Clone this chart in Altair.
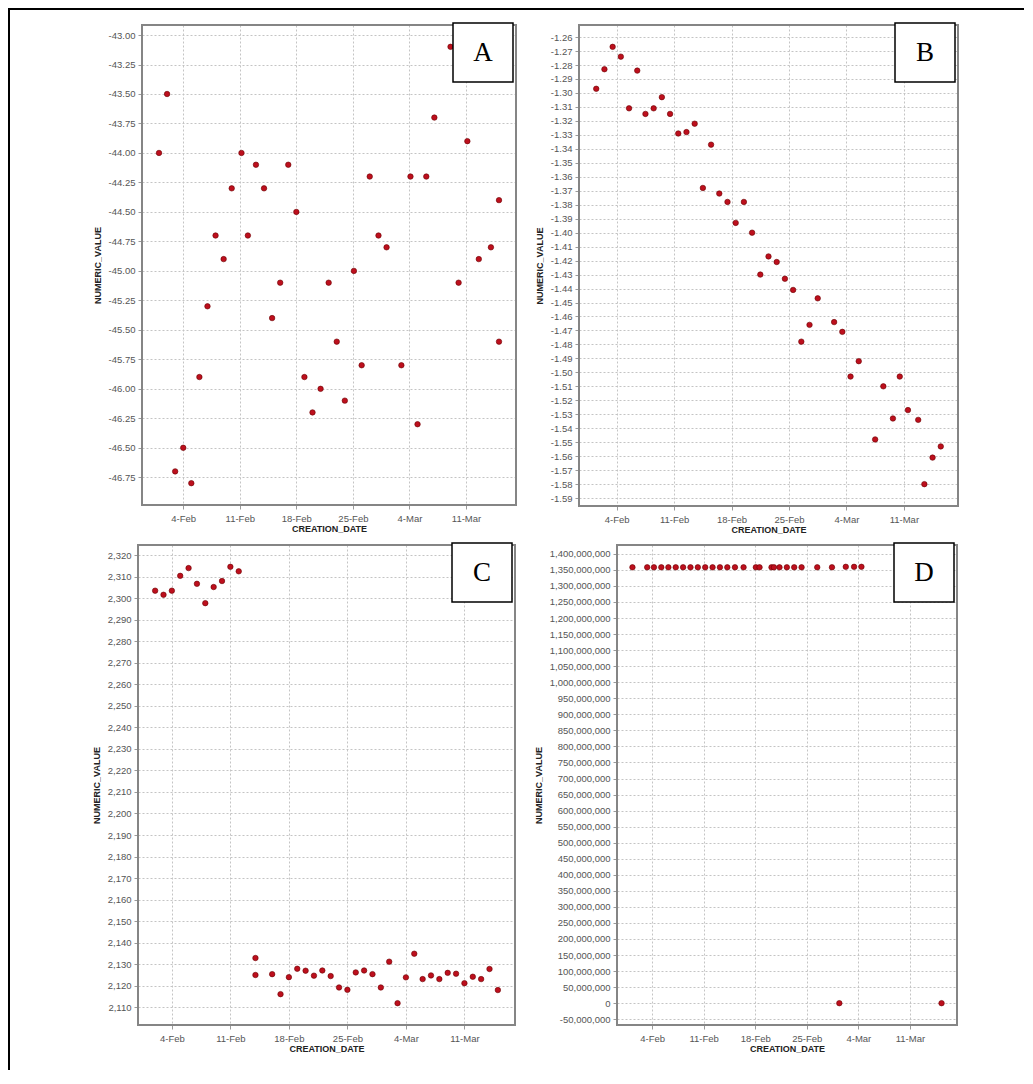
import altair as alt
import pandas as pd

# ---------------- data ----------------
# Panel A
a_dates = ["2013-02-01", "2013-02-02", "2013-02-03", "2013-02-04", "2013-02-05", "2013-02-06",
           "2013-02-07", "2013-02-08", "2013-02-09", "2013-02-10", "2013-02-11 05:00", "2013-02-12",
           "2013-02-13", "2013-02-14", "2013-02-15", "2013-02-16", "2013-02-17", "2013-02-18",
           "2013-02-19", "2013-02-20", "2013-02-21", "2013-02-22", "2013-02-23", "2013-02-24",
           "2013-02-25 03:00", "2013-02-26 02:00", "2013-02-27 02:00", "2013-02-28 04:00", "2013-03-01 04:00",
           "2013-03-03", "2013-03-04 03:00", "2013-03-05", "2013-03-06 02:00", "2013-03-07 02:00",
           "2013-03-09 02:00", "2013-03-10 02:00", "2013-03-11 04:00", "2013-03-12 14:00",
           "2013-03-14 02:00", "2013-03-15 02:00", "2013-03-15 02:00"]
a_values = [-44.0, -43.5, -46.7, -46.5, -46.8, -45.9,
            -45.3, -44.7, -44.9, -44.3, -44.0, -44.7,
            -44.1, -44.3, -45.4, -45.1, -44.1, -44.5,
            -45.9, -46.2, -46.0, -45.1, -45.6, -46.1,
            -45.0, -45.8, -44.2, -44.7, -44.8,
            -45.8, -44.2, -46.3, -44.2, -43.7,
            -43.1, -45.1, -43.9, -44.9,
            -44.8, -44.4, -45.6]
a_yticks = [-43.0, -43.25, -43.5, -43.75, -44.0, -44.25, -44.5, -44.75,
            -45.0, -45.25, -45.5, -45.75, -46.0, -46.25, -46.5, -46.75]

# Panel B
b_dates = ["2013-02-01 12:00", "2013-02-02 12:00", "2013-02-03 12:00", "2013-02-04 12:00",
           "2013-02-05 12:00", "2013-02-06 12:00", "2013-02-07 12:00", "2013-02-08 12:00",
           "2013-02-09 12:00", "2013-02-10 12:00", "2013-02-11 12:00", "2013-02-12 12:00",
           "2013-02-13 12:00", "2013-02-14 12:00", "2013-02-15 12:00", "2013-02-16 12:00",
           "2013-02-17 12:00", "2013-02-18 12:00", "2013-02-19 12:00", "2013-02-20 12:00",
           "2013-02-21 12:00", "2013-02-22 12:00", "2013-02-23 12:00", "2013-02-24 12:00",
           "2013-02-25 12:00", "2013-02-26 12:00", "2013-02-27 12:00", "2013-02-28 12:00",
           "2013-03-02 12:00", "2013-03-03 12:00", "2013-03-04 12:00", "2013-03-05 12:00",
           "2013-03-07 12:00", "2013-03-08 12:00", "2013-03-09 16:00", "2013-03-10 12:00",
           "2013-03-11 12:00", "2013-03-12 18:00", "2013-03-13 12:00", "2013-03-14 12:00",
           "2013-03-15 12:00"]
b_values = [-1.297, -1.283, -1.267, -1.274,
            -1.311, -1.284, -1.315, -1.311,
            -1.303, -1.315, -1.329, -1.328,
            -1.322, -1.368, -1.337, -1.372,
            -1.378, -1.393, -1.378, -1.400,
            -1.430, -1.417, -1.421, -1.433,
            -1.441, -1.478, -1.466, -1.447,
            -1.464, -1.471, -1.503, -1.492,
            -1.548, -1.510, -1.533, -1.503,
            -1.527, -1.534, -1.580, -1.561,
            -1.553]
b_yticks = [-1.26, -1.27, -1.28, -1.29, -1.30, -1.31, -1.32, -1.33, -1.34, -1.35, -1.36,
            -1.37, -1.38, -1.39, -1.40, -1.41, -1.42, -1.43, -1.44, -1.45, -1.46, -1.47,
            -1.48, -1.49, -1.50, -1.51, -1.52, -1.53, -1.54, -1.55, -1.56, -1.57, -1.58, -1.59]

# Panel C
c_dates = ["2013-02-02", "2013-02-03", "2013-02-04", "2013-02-05", "2013-02-06", "2013-02-07",
           "2013-02-08", "2013-02-09", "2013-02-10", "2013-02-11", "2013-02-12",
           "2013-02-14", "2013-02-14", "2013-02-16", "2013-02-17", "2013-02-18", "2013-02-19",
           "2013-02-20", "2013-02-21", "2013-02-22", "2013-02-23", "2013-02-24", "2013-02-25",
           "2013-02-26", "2013-02-27", "2013-02-28", "2013-03-01", "2013-03-02", "2013-03-03",
           "2013-03-04", "2013-03-05", "2013-03-06", "2013-03-07", "2013-03-08", "2013-03-09",
           "2013-03-10", "2013-03-11", "2013-03-12", "2013-03-13", "2013-03-14", "2013-03-15"]
c_values = [2303.6, 2301.7, 2303.6, 2310.5, 2314.1, 2306.8,
            2297.8, 2305.3, 2308.1, 2314.7, 2312.6,
            2132.8, 2124.9, 2125.3, 2116.0, 2123.9, 2127.8,
            2126.9, 2124.6, 2127.0, 2124.4, 2119.1, 2118.0,
            2126.1, 2127.0, 2125.3, 2119.1, 2131.1, 2111.8,
            2123.8, 2134.8, 2123.0, 2124.7, 2123.0, 2125.9,
            2125.5, 2121.1, 2124.1, 2123.0, 2127.7, 2117.9]
c_yticks = [2110, 2120, 2130, 2140, 2150, 2160, 2170, 2180, 2190, 2200, 2210,
            2220, 2230, 2240, 2250, 2260, 2270, 2280, 2290, 2300, 2310, 2320]

# Panel D
d_dates = ["2013-02-01 08:00", "2013-02-03 08:00", "2013-02-04 06:00", "2013-02-05 06:00",
           "2013-02-06 05:00", "2013-02-07 05:00", "2013-02-08 05:00", "2013-02-09 05:00",
           "2013-02-10 05:00", "2013-02-11 05:00", "2013-02-12 05:00", "2013-02-13 05:00",
           "2013-02-14 05:00", "2013-02-15 06:00", "2013-02-16 10:00", "2013-02-18 02:00",
           "2013-02-18 14:00", "2013-02-20 05:00", "2013-02-20 13:00", "2013-02-21 07:00",
           "2013-02-22 07:00", "2013-02-23 07:00", "2013-02-24 07:00", "2013-02-26 10:00",
           "2013-02-28 10:00", "2013-03-02 07:00", "2013-03-03 10:00", "2013-03-04 10:00",
           "2013-03-01 10:00", "2013-03-15 07:00"]
d_values = [1358000000, 1358000000, 1358000000, 1358000000,
            1358000000, 1358000000, 1358000000, 1358000000,
            1358000000, 1358000000, 1358000000, 1358000000,
            1358000000, 1358000000, 1358000000, 1358000000,
            1358000000, 1358000000, 1358000000, 1358000000,
            1358000000, 1358000000, 1358000000, 1358000000,
            1358000000, 1359500000, 1359500000, 1359500000,
            0, 0]
d_yticks = [-50000000, 0, 50000000, 100000000, 150000000, 200000000, 250000000,
            300000000, 350000000, 400000000, 450000000, 500000000, 550000000,
            600000000, 650000000, 700000000, 750000000, 800000000, 850000000,
            900000000, 950000000, 1000000000, 1050000000, 1100000000, 1150000000,
            1200000000, 1250000000, 1300000000, 1350000000, 1400000000]

x_tick_dates = ["2013-02-04", "2013-02-11", "2013-02-18", "2013-02-25", "2013-03-04", "2013-03-11"]

# ---------------- helpers ----------------
EPOCH = pd.Timestamp("1970-01-01", tz="UTC")


def to_ms(dates):
    out = []
    for s in dates:
        ts = pd.Timestamp(s).tz_localize("UTC")
        out.append(int((ts - EPOCH) / pd.Timedelta(milliseconds=1)))
    return out


def padded(vals):
    lo, hi = min(vals), max(vals)
    m = 0.05 * (hi - lo)
    return [lo - m, hi + m]


X_TICKS = to_ms(x_tick_dates)
ONE = pd.DataFrame({"k": [0]})
MINUS_FIX = "replace(datum.label, '\u2212', '-')"
BORDER = "#858585"


def block(x1, x2, y1, y2, opacity=1):
    # filled rectangle with no stroke (exact bounds) used for the outer frame
    return alt.Chart(ONE).mark_rect(color="black", opacity=opacity).encode(
        x=alt.value(x1), x2=alt.value(x2), y=alt.value(y1), y2=alt.value(y2))


def panel(dates, values, yticks, yfmt, letter, W, H, extras, left=0):
    t = to_ms(dates)
    df = pd.DataFrame({"t": t, "v": values})
    xscale = alt.Scale(type="utc", domain=padded(t), nice=False)
    if left:
        xscale = alt.Scale(type="utc", domain=padded(t), nice=False, range=[left, W])
    yaxis_kw = dict(values=yticks, format=yfmt, title="NUMERIC_VALUE",
                    labelExpr=MINUS_FIX, labelOverlap=False, titlePadding=6)
    if left:
        yaxis_kw["offset"] = -left
    pts = alt.Chart(df).mark_circle(
        size=30, color="#bd0f1d", opacity=1, stroke="#6a0000", strokeWidth=0.6
    ).encode(
        x=alt.X("t:T", scale=xscale,
                axis=alt.Axis(values=X_TICKS, format="%-d-%b", title="CREATION_DATE",
                              labelPadding=4, titlePadding=2, labelOverlap=False)),
        y=alt.Y("v:Q",
                scale=alt.Scale(domain=padded(values), nice=False, zero=False),
                axis=alt.Axis(**yaxis_kw)),
    )
    border = alt.Chart(ONE).mark_rect(fillOpacity=0, stroke=BORDER, strokeWidth=2).encode(
        x=alt.value(left), x2=alt.value(W), y=alt.value(0), y2=alt.value(H))
    box = alt.Chart(ONE).mark_rect(fill="white", stroke="black", strokeWidth=1.5).encode(
        x=alt.value(W - 63), x2=alt.value(W - 3), y=alt.value(-2), y2=alt.value(57))
    txt = alt.Chart(ONE).mark_text(font="Liberation Serif", fontSize=27, color="black",
                                   align="center", baseline="alphabetic").encode(
        x=alt.value(W - 33), y=alt.value(36), text=alt.value(letter))
    return alt.layer(pts, border, box, txt, *extras).properties(width=W, height=H)


# A: group origin shares the column with C (page x 138); plot drawn from +4
pa = panel(a_dates, a_values, a_yticks, ".2f", "A", 378, 480,
           [block(-130, -128, -17, 515), block(-130, 380, -17, -15)], left=4)
pb = panel(b_dates, b_values, b_yticks, ".2f", "B", 379, 481,
           [block(-61, 445, -17, -15)])
pc = panel(c_dates, c_values, c_yticks, ",d", "C", 377, 480,
           [block(-130, -128, -5, 525)])
pd_ = panel(d_dates, d_values, d_yticks, ",d", "D", 340, 480,
            [block(-101, -100, 0, 10, opacity=0)])

chart = alt.vconcat(
    alt.hconcat(pa, pb, spacing=0),
    alt.hconcat(pc, pd_, spacing=0),
    spacing=0,
).properties(padding=0).configure_view(
    stroke="transparent", strokeWidth=0
).configure_axis(
    labelFont="Liberation Sans", labelFontSize=9.5, labelColor="#555555",
    titleFont="Liberation Sans", titleFontSize=9, titleFontWeight="bold", titleColor="#222222",
    tickColor="#9a9a9a", tickSize=4, labelPadding=3, domain=False,
    gridColor="#c4c4c4", gridDash=[2, 2], gridWidth=1,
).configure_concat(spacing=0)

chart.save("out.html", embed_options={"renderer": "svg", "actions": False})
